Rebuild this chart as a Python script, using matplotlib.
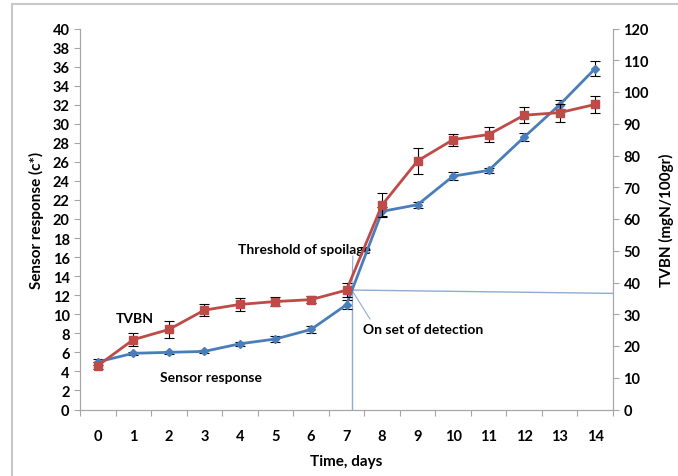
import matplotlib
matplotlib.use('Agg')
import matplotlib.pyplot as plt
import numpy as np
from matplotlib.patches import Rectangle

plt.rcParams['font.family'] = ['Lato', 'DejaVu Sans']

days = [0, 1, 2, 3, 4, 5, 6, 7, 8, 9, 10, 11, 12, 13, 14]

# sensor response (c*), left axis
sensor = [5.0, 5.9, 6.0, 6.1, 6.9, 7.4, 8.4, 11.0, 20.8, 21.5, 24.5, 25.1, 28.6, 32.0, 35.8]
sensor_err = [0.3, 0.15, 0.15, 0.15, 0.2, 0.3, 0.4, 0.5, 0.5, 0.3, 0.4, 0.3, 0.4, 0.5, 0.8]

# TVBN (mgN/100gr), right axis
tvbn = [13.8, 22.0, 25.2, 31.3, 33.1, 34.0, 34.6, 37.6, 64.4, 78.3, 85.0, 86.6, 92.7, 93.5, 96.1]
tvbn_err = [1.2, 2.1, 2.7, 2.0, 2.0, 1.5, 1.2, 2.2, 3.9, 4.2, 1.9, 2.5, 2.5, 2.8, 2.6]

blue = '#4A7EBB'
red = '#BE4B48'
grey = '#A6A6A6'
guide = '#8EACD0'

fig = plt.figure(figsize=(6.78, 4.77), dpi=100)
fig.patches.append(Rectangle((12 / 678, -0.1), 1.2, 1 - 5 / 477 + 0.1, transform=fig.transFigure,
                             fill=False, edgecolor='#C8C8C8', linewidth=1.5))

ax = fig.add_axes([80 / 678, 1 - 410.5 / 477, 533 / 678, 381 / 477])
ax2 = ax.twinx()

ax.errorbar(days, sensor, yerr=sensor_err, color=blue, marker='D', markersize=4, linewidth=2,
            ecolor='black', elinewidth=0.8, capsize=3.5, capthick=0.8, zorder=3)
ax2.errorbar(days, tvbn, yerr=tvbn_err, color=red, marker='s', markersize=6, linewidth=2,
             ecolor='black', elinewidth=0.8, capsize=3.5, capthick=0.8, zorder=3)

ax.set_xlim(-0.5, 14.5)
ax.set_ylim(0, 40)
ax2.set_ylim(0, 120)
ax.set_yticks(np.arange(0, 41, 2))
ax2.set_yticks(np.arange(0, 121, 10))
ax.set_xticks(days)
ax.set_xticks(np.arange(-0.5, 15, 1), minor=True)

for a in (ax, ax2):
    for s in a.spines.values():
        s.set_color(grey)
    a.spines['top'].set_visible(False)
    a.tick_params(axis='y', colors=grey, length=4, width=0.8, labelsize=10.5)
    for lbl in a.get_yticklabels():
        lbl.set_color('black')
        lbl.set_fontweight('bold')

ax.tick_params(axis='x', which='major', length=0, pad=14, labelsize=10.5)
ax.tick_params(axis='x', which='minor', length=4, width=0.8, colors=grey)
for lbl in ax.get_xticklabels():
    lbl.set_fontweight('bold')

ax.set_ylabel('Sensor response (c*)', fontsize=11, fontweight='bold', labelpad=6)
ax2.set_ylabel('TVBN (mgN/100gr)', fontsize=11, fontweight='bold', labelpad=7)
ax.set_xlabel('Time, days', fontsize=11, fontweight='bold', labelpad=8)

# threshold / onset guide lines
ax.plot([7.15, 14.5], [12.54, 12.19], color=guide, linewidth=1, zorder=2)
ax.plot([7.15, 7.15], [12.54, 0], color=guide, linewidth=1, zorder=2)
ax.plot([7.18, 7.15], [16.1, 12.54], color=guide, linewidth=0.8, zorder=2)
ax.plot([7.15, 7.66], [12.54, 9.5], color=guide, linewidth=0.8, zorder=2)

ax.text(3.95, 16.84, 'Threshold of spoilage', fontsize=10, fontweight='bold', va='center', ha='left')
ax.text(0.5, 9.6, 'TVBN', fontsize=10, fontweight='bold', va='center', ha='left')
ax.text(1.75, 3.41, 'Sensor response', fontsize=10, fontweight='bold', va='center', ha='left')
ax.text(7.46, 8.45, 'On set of detection', fontsize=10, fontweight='bold', va='center', ha='left')

plt.savefig('out.png', dpi=100)
